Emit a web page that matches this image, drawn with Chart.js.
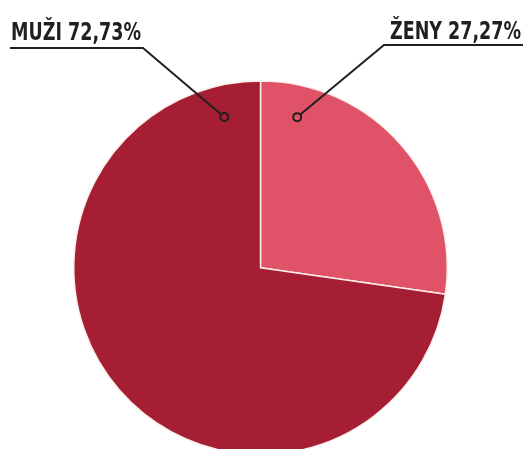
<!DOCTYPE html>
<html>
<head>
<meta charset="utf-8">
<script src="https://cdn.jsdelivr.net/npm/chart.js@4"></script>
<style>
  html, body { margin: 0; padding: 0; background: #fff; }
  #wrap { width: 523px; height: 449px; overflow: hidden; position: relative; }
  #wrap canvas { display: block; }
</style>
</head>
<body>
<div id="wrap"><canvas id="pie" width="523" height="500"></canvas></div>
<script>
// data
const categories = ['ŽENY', 'MUŽI'];
const shares = [27.27, 72.73];
const labels = ['ŽENY 27,27%', 'MUŽI 72,73%'];
const colors = ['#df5267', '#a51e34'];

// callout: dot angle (deg from top, clockwise), radius share, text box
const callouts = [
  { angle: 13.7, r: 0.83, textX: 390, textW: 131, baseY: 39, lineY: 45, lineFrom: 384, lineTo: 523 },
  { angle: -13.5, r: 0.83, textX: 11, textW: 130, baseY: 40, lineY: 48, lineFrom: 10, lineTo: 143 }
];

const calloutPlugin = {
  id: 'callouts',
  afterDatasetsDraw(chart) {
    const ctx = chart.ctx;
    const arc = chart.getDatasetMeta(0).data[0];
    ctx.save();
    ctx.strokeStyle = '#231f20';
    ctx.fillStyle = '#231f20';
    ctx.lineWidth = 2;
    callouts.forEach((c, i) => {
      const a = (c.angle - 90) * Math.PI / 180;
      const dx = arc.x + Math.cos(a) * arc.outerRadius * c.r;
      const dy = arc.y + Math.sin(a) * arc.outerRadius * c.r;
      const elbow = i === 0 ? c.lineFrom : c.lineTo;
      const far = i === 0 ? c.lineTo : c.lineFrom;
      // leader
      ctx.beginPath();
      ctx.moveTo(far, c.lineY);
      ctx.lineTo(elbow, c.lineY);
      const ux = dx - elbow, uy = dy - c.lineY;
      const len = Math.sqrt(ux * ux + uy * uy);
      ctx.lineTo(dx - ux / len * 4, dy - uy / len * 4);
      ctx.stroke();
      // dot
      ctx.beginPath();
      ctx.arc(dx, dy, 4, 0, Math.PI * 2);
      ctx.stroke();
      // text, squeezed to width
      ctx.font = 'bold 24px "DejaVu Sans Condensed", "Liberation Sans Narrow", "DejaVu Sans", sans-serif';
      ctx.textBaseline = 'alphabetic';
      ctx.textAlign = 'left';
      const w = ctx.measureText(labels[i]).width;
      ctx.save();
      ctx.translate(c.textX, c.baseY);
      ctx.scale(c.textW / w, 1);
      ctx.fillText(labels[i], 0, 0);
      ctx.restore();
    });
    ctx.restore();
  }
};

new Chart(document.getElementById('pie'), {
  type: 'pie',
  data: {
    labels: categories,
    datasets: [{
      data: shares,
      backgroundColor: colors,
      borderColor: '#fbeee8',
      borderWidth: 1.5
    }]
  },
  options: {
    responsive: false,
    animation: false,
    layout: { padding: { top: 80, left: 73, right: 75, bottom: 44.5 } },
    plugins: {
      legend: { display: false },
      tooltip: { enabled: false }
    }
  },
  plugins: [calloutPlugin]
});
</script>
</body>
</html>
